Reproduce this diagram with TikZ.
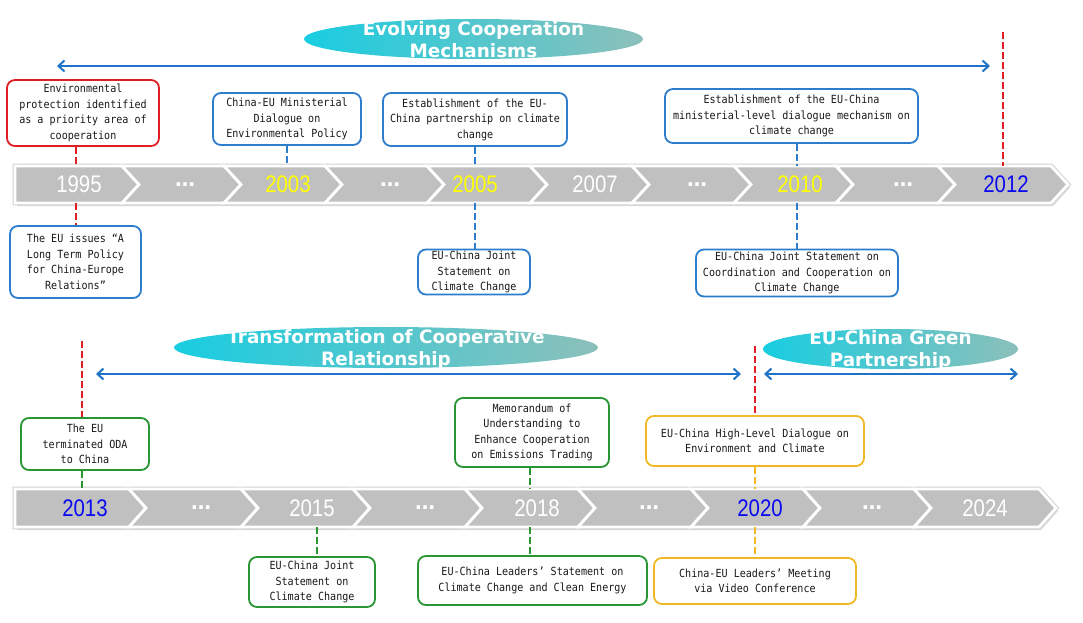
\documentclass[tikz,border=0pt]{standalone}
\usepackage{fontspec}
\usetikzlibrary{arrows.meta,shapes.geometric}
\newfontfamily\boxfont[FakeStretch=0.9]{DejaVu Sans Mono}
\newfontfamily\yearfont[FakeStretch=0.85]{Liberation Sans}
\newfontfamily\banfont{DejaVu Sans}
\definecolor{cred}{RGB}{225,30,35}
\definecolor{cblue}{RGB}{45,125,205}
\definecolor{cgreen}{RGB}{40,150,50}
\definecolor{cyel}{RGB}{240,185,35}
\definecolor{carrow}{RGB}{30,115,200}
\definecolor{chev}{RGB}{192,192,192}
\definecolor{bcyan}{RGB}{25,205,225}
\definecolor{bteal}{RGB}{140,192,186}
\definecolor{yblue}{RGB}{10,10,240}
\definecolor{yyel}{RGB}{255,255,0}
\tikzset{
  tbox/.style={draw, rounded corners=8, line width=1.8, fill=white, align=center,
    text=black!90, font=\boxfont\fontsize{11.2}{15.5}\selectfont, inner sep=0},
  year/.style={font=\yearfont\fontsize{24}{24}\selectfont, inner sep=0},
  dots/.style={font=\banfont\bfseries\fontsize{20}{20}\selectfont, text=white, inner sep=0},
  banner/.style={ellipse, left color=bcyan, right color=bteal, inner sep=0},
  bantext/.style={font=\banfont\bfseries\fontsize{18.4}{22}\selectfont, text=white, align=center, inner sep=0},
  dline/.style={line width=2.4, dash pattern=on 7pt off 3pt},
  rdash/.style={dline, draw=cred},
  bdash/.style={dline, draw=cblue},
  gdash/.style={dline, draw=cgreen},
  ydash/.style={dline, draw=cyel},
  arr/.style={draw=carrow, line width=2, {Straight Barb[length=6pt,width=11pt]}-{Straight Barb[length=6pt,width=11pt]}},
  chevstyle/.style={fill=chev, draw=white, line width=2.8, line join=miter},
  barguide/.style={inner sep=0}
}
\begin{document}
\begin{tikzpicture}[x=1pt,y=-1pt]
\useasboundingbox[fill=white] (0,0) rectangle (1083,623);

% ---------- top timeline bar ----------
\fill[gray!30] (17,169) -- (1053,169) -- (1070,187.5) -- (1053,206) -- (17,206) -- cycle;
\draw[gray!35, line width=4.8] (15,166) -- (1051,166) -- (1068,184.5) -- (1051,203) -- (15,203) -- cycle;
\draw[chevstyle] (15,166) -- (122,166) -- (139,184.5) -- (122,203) -- (15,203) -- cycle;
\foreach \L/\R in {122/224,224/325,325/427,427/530,530/632,632/734,734/836,836/938,938/1051}
  \draw[chevstyle] (\L,166) -- (\R,166) -- ({\R+17},184.5) -- (\R,203) -- (\L,203) -- ({\L+17},184.5) -- cycle;
\node[barguide, minimum width=1053, minimum height=37] (topbar) at (541.5,184.5) {};

\node[year, text=white] (y1995) at (79,184.5) {1995};
\node[dots] (d1) at (185,184.5) {…};
\node[year, text=yyel] (y2003) at (288,184.5) {2003};
\node[dots] (d2) at (390,184.5) {…};
\node[year, text=yyel] (y2005) at (475,184.5) {2005};
\node[year, text=white] (y2007) at (595,184.5) {2007};
\node[dots] (d3) at (697,184.5) {…};
\node[year, text=yyel] (y2010) at (800,184.5) {2010};
\node[dots] (d4) at (903,184.5) {…};
\node[year, text=yblue] (y2012) at (1006,184.5) {2012};

% ---------- bottom timeline bar ----------
\fill[gray!30] (17,492) -- (1041,492) -- (1058,511) -- (1041,530) -- (17,530) -- cycle;
\draw[gray!35, line width=4.8] (15,489) -- (1039,489) -- (1056,508) -- (1039,527) -- (15,527) -- cycle;
\draw[chevstyle] (15,489) -- (129,489) -- (146,508) -- (129,527) -- (15,527) -- cycle;
\foreach \L/\R in {129/241,241/353,353/465,465/578,578/691,691/803,803/914,914/1039}
  \draw[chevstyle] (\L,489) -- (\R,489) -- ({\R+17},508) -- (\R,527) -- (\L,527) -- ({\L+17},508) -- cycle;
\node[barguide, minimum width=1041, minimum height=38] (botbar) at (535.5,508) {};

\node[year, text=yblue] (y2013) at (85,508) {2013};
\node[dots] (d5) at (201,508) {…};
\node[year, text=white] (y2015) at (312,508) {2015};
\node[dots] (d6) at (425,508) {…};
\node[year, text=white] (y2018) at (537,508) {2018};
\node[dots] (d7) at (649,508) {…};
\node[year, text=yblue] (y2020) at (760,508) {2020};
\node[dots] (d8) at (872,508) {…};
\node[year, text=white] (y2024) at (985,508) {2024};

% ---------- banners ----------
\node[banner, minimum width=339, minimum height=40] (ban1) at (473.5,39) {};
\node[bantext] (ban1t) at (473.5,40) {Evolving Cooperation\\Mechanisms};
\node[banner, minimum width=424, minimum height=41] (ban2) at (386,347.5) {};
\node[bantext] (ban2t) at (386,349) {Transformation of Cooperative\\Relationship};
\node[banner, minimum width=255, minimum height=40] (ban3) at (890.5,349) {};
\node[bantext] (ban3t) at (890.5,350.5) {EU-China Green\\Partnership};

% ---------- period arrows ----------
\coordinate (a1l) at (57,66);  \coordinate (a1r) at (990,66);
\coordinate (a2l) at (96,374); \coordinate (a2r) at (741,374);
\coordinate (a3l) at (764,374); \coordinate (a3r) at (1018,374);
\draw[arr] (a1l) -- (a1r);
\draw[arr] (a2l) -- (a2r);
\draw[arr] (a3l) -- (a3r);

% ---------- event boxes, top ----------
\node[tbox, draw=cred, minimum width=152, minimum height=66] (box1) at (83,113)
  {Environmental\\protection identified\\as a priority area of\\cooperation};
\node[tbox, draw=cblue, minimum width=148, minimum height=52] (box2) at (287,119)
  {China-EU Ministerial\\Dialogue on\\Environmental Policy};
\node[tbox, draw=cblue, minimum width=184, minimum height=53] (box3) at (475,119.5)
  {Establishment of the EU-\\China partnership on climate\\change};
\node[tbox, draw=cblue, minimum width=253, minimum height=54] (box4) at (791.5,116)
  {Establishment of the EU-China\\ministerial-level dialogue mechanism on\\climate change};
\node[tbox, draw=cblue, minimum width=131, minimum height=72] (box5) at (75.5,262)
  {The EU issues “A\\Long Term Policy\\for China-Europe\\Relations”};
\node[tbox, draw=cblue, minimum width=112, minimum height=45] (box6) at (474,272)
  {EU-China Joint\\Statement on\\Climate Change};
\node[tbox, draw=cblue, minimum width=202, minimum height=47] (box7) at (797,273)
  {EU-China Joint Statement on\\Coordination and Cooperation on\\Climate Change};

% ---------- event boxes, bottom ----------
\node[tbox, draw=cgreen, minimum width=128, minimum height=52] (box8) at (85,444)
  {The EU\\terminated ODA\\to China};
\node[tbox, draw=cgreen, minimum width=126, minimum height=50] (box9) at (312,582)
  {EU-China Joint\\Statement on\\Climate Change};
\node[tbox, draw=cgreen, minimum width=154, minimum height=69] (box10) at (532,432.5)
  {Memorandum of\\Understanding to\\Enhance Cooperation\\on Emissions Trading};
\node[tbox, draw=cgreen, minimum width=229, minimum height=49] (box11) at (532.5,580.5)
  {EU-China Leaders’ Statement on\\Climate Change and Clean Energy};
\node[tbox, draw=cyel, minimum width=218, minimum height=50] (box12) at (755,441)
  {EU-China High-Level Dialogue on\\Environment and Climate};
\node[tbox, draw=cyel, minimum width=202, minimum height=46] (box13) at (755,581)
  {China-EU Leaders’ Meeting\\via Video Conference};

% ---------- connectors ----------
\coordinate (c95) at (76,0);
\coordinate (c03) at (287,0);
\coordinate (c05) at (475,0);
\coordinate (c10) at (797,0);
\coordinate (c12) at (1003,32);
\coordinate (c13) at (82,341);
\coordinate (c15) at (317,0);
\coordinate (c18) at (530,0);
\coordinate (c20) at (755,346);

\draw[rdash] (box1.south -| c95) -- (topbar.north -| c95);
\draw[rdash] (topbar.south -| c95) -- (box5.north -| c95);
\draw[bdash] (box2.south -| c03) -- (topbar.north -| c03);
\draw[bdash] (box3.south -| c05) -- (topbar.north -| c05);
\draw[bdash] (topbar.south -| c05) -- (box6.north -| c05);
\draw[bdash] (box4.south -| c10) -- (topbar.north -| c10);
\draw[bdash] (topbar.south -| c10) -- (box7.north -| c10);
\draw[rdash] (c12) -- (topbar.north -| c12);

\draw[rdash] (c13) -- (box8.north -| c13);
\draw[gdash] (box8.south -| c13) -- (botbar.north -| c13);
\draw[gdash] (botbar.south -| c15) -- (box9.north -| c15);
\draw[gdash] (box10.south -| c18) -- (botbar.north -| c18);
\draw[gdash] (botbar.south -| c18) -- (box11.north -| c18);
\draw[rdash] (c20) -- (box12.north -| c20);
\draw[ydash] (box12.south -| c20) -- (botbar.north -| c20);
\draw[ydash] (botbar.south -| c20) -- (box13.north -| c20);
\end{tikzpicture}
\end{document}
